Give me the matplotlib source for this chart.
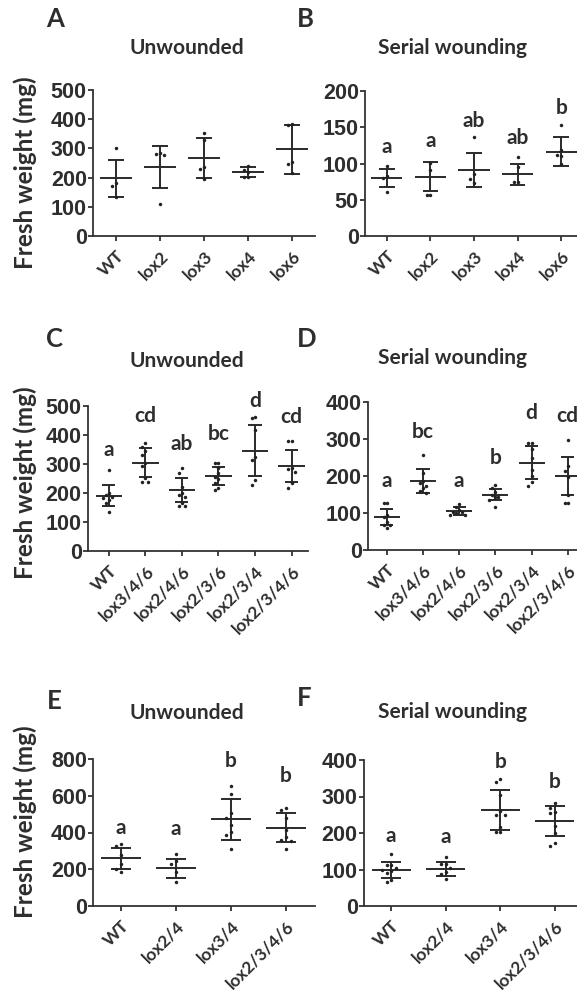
import numpy as np
import matplotlib
matplotlib.use('Agg')
import matplotlib.pyplot as plt

W, H = 577, 994
TXT = '#2e2e2e'
LBL_FONT = 'Lato'
NUM_FONT = 'Liberation Sans'

# ---- Panel A / B : single mutants ----
ab_groups = ['WT', 'lox2', 'lox3', 'lox4', 'lox6']
a_points = [[300, 180, 172, 135], [283, 281, 276, 110], [352, 329, 237, 228, 196],
            [241, 226, 220, 203, 201], [383, 380, 253, 246, 215]]
a_mean = [197, 236, 267, 219, 297]
a_sd = [62, 73, 69, 18, 83]

b_points = [[97, 83, 80, 61], [101, 91, 57, 57], [137, 86, 79, 73],
            [109, 95, 75, 75], [153, 118, 112, 110, 99]]
b_mean = [80, 82, 91, 85, 116]
b_sd = [13, 20, 23, 15, 20]
b_letters = ['a', 'a', 'ab', 'ab', 'b']
b_letter_y = [123, 131, 159, 135, 177]

# ---- Panel C / D : higher order mutants ----
cd_groups = ['WT', 'lox3/4/6', 'lox2/4/6', 'lox2/3/6', 'lox2/3/4', 'lox2/3/4/6']
c_points = [[279, 200, 192, 187, 183, 176, 165, 133],
            [371, 360, 346, 331, 305, 293, 251, 237, 237],
            [285, 270, 222, 199, 193, 187, 164, 155, 155],
            [305, 305, 287, 268, 254, 247, 233, 216, 210],
            [461, 457, 417, 325, 314, 245, 228],
            [380, 380, 285, 282, 273, 233, 218]]
c_mean = [190, 305, 210, 259, 346, 293]
c_sd = [36, 51, 41, 31, 87, 56]
c_letters = ['a', 'cd', 'ab', 'bc', 'd', 'cd']
c_letter_y = [350, 466, 370, 402, 517, 463]

d_points = [[128, 128, 95, 88, 77, 68, 68, 59],
            [257, 209, 187, 180, 173, 167, 160, 153],
            [124, 115, 108, 104, 99, 95, 95, 104],
            [176, 167, 158, 149, 142, 142, 135, 117],
            [290, 290, 272, 248, 216, 200, 185, 173],
            [297, 227, 214, 198, 149, 128, 128]]
d_mean = [90, 187, 105, 150, 236, 200]
d_sd = [22, 32, 11, 16, 45, 51]
d_letters = ['a', 'bc', 'a', 'b', 'd', 'cd']
d_letter_y = [187, 319, 187, 250, 370, 362]

# ---- Panel E / F : double / quadruple mutants ----
ef_groups = ['WT', 'lox2/4', 'lox3/4', 'lox2/3/4/6']
e_points = [[335, 328, 278, 227, 201, 183], [281, 245, 227, 187, 132],
            [653, 611, 504, 477, 441, 401, 386, 308],
            [535, 522, 477, 414, 377, 359, 354, 310]]
e_mean = [259, 205, 472, 426]
e_sd = [56, 51, 111, 79]
e_letters = ['a', 'a', 'b', 'b']
e_letter_y = [426, 419, 789, 709]

f_points = [[142, 112, 112, 103, 99, 96, 90, 71, 67],
            [135, 114, 114, 103, 92, 87, 74],
            [347, 341, 304, 261, 249, 249, 217, 202, 202],
            [283, 269, 258, 254, 220, 199, 172, 165]]
f_mean = [99, 101, 263, 233]
f_sd = [21, 19, 56, 41]
f_letters = ['a', 'a', 'b', 'b']
f_letter_y = [192, 188, 395, 341]


def swarm(vals, ymax, d=0.085):
    vals = np.asarray(vals, float)
    offs = np.zeros(len(vals))
    placed = []
    for i in np.argsort(-vals):
        for c in [0, -d, d, -2 * d, 2 * d, -3 * d, 3 * d]:
            if all(abs(c - ox) > d * 0.9 or abs(vals[i] - oy) > 0.035 * ymax
                   for ox, oy in placed):
                offs[i] = c
                break
        placed.append((offs[i], vals[i]))
    return offs


def make_axes(fig, left, top, right, bottom):
    return fig.add_axes([left / W, 1 - bottom / H, (right - left) / W, (bottom - top) / H])


def draw_panel(ax, groups, points, means, sds, ymax, ystep, xlim, letters=None, letter_y=None):
    x = np.arange(len(groups))
    for i in x:
        pts = points[i]
        ax.plot(i + swarm(pts, ymax), pts, 'o', color='#222222', markersize=2.5,
                markeredgewidth=0, clip_on=False, zorder=3)
        m, s = means[i], sds[i]
        ax.hlines(m, i - 0.36, i + 0.36, color='#2a2a2a', lw=1.4, zorder=2)
        ax.vlines(i, m - s, m + s, color='#2a2a2a', lw=1.4, zorder=2)
        ax.hlines([m - s, m + s], i - 0.18, i + 0.18, color='#2a2a2a', lw=1.4, zorder=2)
    if letters is not None:
        for i, (t, y) in enumerate(zip(letters, letter_y)):
            ax.text(i, y, t, ha='center', va='center', fontsize=15, fontweight='bold',
                    family=LBL_FONT, color=TXT)
    ax.set_xlim(*xlim)
    ax.set_ylim(0, ymax)
    ax.set_yticks(np.arange(0, ymax + 1, ystep))
    ax.set_xticks(x)
    ax.set_xticklabels(groups, rotation=45, ha='right', rotation_mode='anchor',
                       fontsize=12.5, fontweight='bold', family=LBL_FONT, color=TXT)
    for lab in ax.get_yticklabels():
        lab.set_fontfamily(NUM_FONT)
        lab.set_fontweight('bold')
        lab.set_fontsize(15.5)
        lab.set_color(TXT)
    ax.spines['top'].set_visible(False)
    ax.spines['right'].set_visible(False)
    for sp in ('left', 'bottom'):
        ax.spines[sp].set_color('#333333')
        ax.spines[sp].set_linewidth(1.3)
    ax.tick_params(axis='both', length=3.5, width=1.3, color='#333333')
    ax.tick_params(axis='y', pad=1)
    ax.tick_params(axis='x', pad=5)
    ax.set_facecolor('none')


fig = plt.figure(figsize=(W / 100, H / 100), dpi=100)

axA = make_axes(fig, 93, 90, 315, 236)
draw_panel(axA, ab_groups, a_points, a_mean, a_sd, 500, 100, (-0.52, 4.52))
axB = make_axes(fig, 365, 91, 583, 236)
draw_panel(axB, ab_groups, b_points, b_mean, b_sd, 200, 50, (-0.5, 4.5), b_letters, b_letter_y)
axC = make_axes(fig, 88, 406, 308, 551)
draw_panel(axC, cd_groups, c_points, c_mean, c_sd, 500, 100, (-0.57, 5.45), c_letters, c_letter_y)
axD = make_axes(fig, 368, 402, 584, 550)
draw_panel(axD, cd_groups, d_points, d_mean, d_sd, 400, 100, (-0.52, 5.45), d_letters, d_letter_y)
axE = make_axes(fig, 93, 759, 315, 906)
draw_panel(axE, ef_groups, e_points, e_mean, e_sd, 800, 200, (-0.51, 3.53), e_letters, e_letter_y)
axF = make_axes(fig, 364, 760, 582, 906)
draw_panel(axF, ef_groups, f_points, f_mean, f_sd, 400, 100, (-0.5, 3.5), f_letters, f_letter_y)


def ftext(x, y, s, **kw):
    fig.text(x / W, 1 - y / H, s, color=TXT, fontweight='bold', family=LBL_FONT, **kw)


panel_tags = ['A', 'B', 'C', 'D', 'E', 'F']
tag_xy = [(46, 19), (297, 19), (46, 339), (297, 339), (47, 701), (297, 698)]
for t, (x, y) in zip(panel_tags, tag_xy):
    ftext(x, y, t, fontsize=18.5, ha='left', va='center')

titles = ['Unwounded', 'Serial wounding'] * 3
title_xy = [(187, 48), (453, 48), (187, 361), (453, 358), (187, 713), (453, 712)]
for t, (x, y) in zip(titles, title_xy):
    ftext(x, y, t, fontsize=15, ha='center', va='center')

for y in (173, 483, 822):
    ftext(25, y, 'Fresh weight (mg)', fontsize=17.5, ha='center', va='center', rotation=90)

fig.savefig('out.png', dpi=100, facecolor='white')
